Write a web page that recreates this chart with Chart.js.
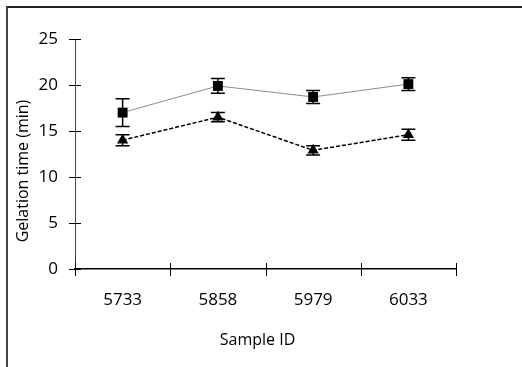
<!DOCTYPE html>
<html>
<head>
<meta charset="utf-8">
<script src="https://cdn.jsdelivr.net/npm/chart.js@4.4.0/dist/chart.umd.min.js"></script>
<style>
  html, body { margin: 0; padding: 0; background: #fff; }
  #wrap { position: relative; width: 522px; height: 367px; overflow: hidden; }
  #frame {
    position: absolute; left: 6px; top: 6px; width: 600px; height: 400px;
    border-top: 2px solid #222; border-left: 2px solid #444;
  }
  canvas { position: absolute; left: 0; top: 0; }
</style>
</head>
<body>
<div id="wrap">
  <div id="frame"></div>
  <canvas id="gelChart" width="522" height="367"></canvas>
</div>
<script>
const samples = ["5733", "5858", "5979", "6033"];
const squareVals = [17.0, 19.9, 18.7, 20.1];
const squareErr = [1.5, 0.8, 0.7, 0.7];
const triangleVals = [14.0, 16.5, 12.9, 14.6];
const triangleErr = [0.6, 0.5, 0.5, 0.6];
const yTicks = [0, 5, 10, 15, 20, 25];

const FONT = "'Open Sans', 'DejaVu Sans', sans-serif";

// error bars, drawn under the markers
const errorBars = {
  id: "errorBars",
  beforeDatasetsDraw(chart) {
    const ctx = chart.ctx;
    const x = chart.scales.x;
    const y = chart.scales.y;
    ctx.save();
    ctx.strokeStyle = "#000";
    ctx.lineWidth = 1.5;
    chart.data.datasets.forEach(ds => {
      ds.data.forEach((v, i) => {
        const e = ds.errors[i];
        const px = x.getPixelForValue(i);
        const top = y.getPixelForValue(v + e);
        const bot = y.getPixelForValue(v - e);
        ctx.beginPath();
        ctx.moveTo(px, top); ctx.lineTo(px, bot);
        ctx.moveTo(px - 7, top); ctx.lineTo(px + 7, top);
        ctx.moveTo(px - 7, bot); ctx.lineTo(px + 7, bot);
        ctx.stroke();
      });
    });
    ctx.restore();
  }
};

// Excel style crossing tick marks and axis titles
const axisDecor = {
  id: "axisDecor",
  afterDraw(chart) {
    const ctx = chart.ctx;
    const x = chart.scales.x;
    const y = chart.scales.y;
    const area = chart.chartArea;
    ctx.save();
    ctx.strokeStyle = "#000";
    ctx.lineWidth = 1;
    yTicks.forEach(t => {
      const py = Math.round(y.getPixelForValue(t)) + 0.5;
      ctx.beginPath();
      ctx.moveTo(area.left - 6, py);
      ctx.lineTo(area.left + 6, py);
      ctx.stroke();
    });
    for (let i = 0; i <= samples.length; i++) {
      const px = Math.round(x.getPixelForValue(i - 0.5)) + 0.5;
      ctx.beginPath();
      ctx.moveTo(px, area.bottom - 6);
      ctx.lineTo(px, area.bottom + 7);
      ctx.stroke();
    }

    ctx.fillStyle = "#000";
    ctx.font = "16px " + FONT;
    ctx.textAlign = "center";
    ctx.textBaseline = "middle";
    ctx.fillText("Sample ID", area.left + (area.right - area.left) / 2 - 8, 340);

    ctx.translate(23, area.top + (area.bottom - area.top) / 2 + 17);
    ctx.rotate(-Math.PI / 2);
    ctx.fillText("Gelation time (min)", 0, 0);
    ctx.restore();
  }
};

const chart = new Chart(document.getElementById("gelChart").getContext("2d"), {
  type: "line",
  data: {
    labels: samples,
    datasets: [
      {
        label: "squares",
        data: squareVals,
        errors: squareErr,
        borderColor: "#8c8c8c",
        borderWidth: 1,
        pointStyle: "rect",
        pointRadius: 7,
        pointBackgroundColor: "#000",
        pointBorderColor: "#000",
        pointBorderWidth: 0,
        clip: false
      },
      {
        label: "triangles",
        data: triangleVals,
        errors: triangleErr,
        borderColor: "#000",
        borderWidth: 1.5,
        borderDash: [4, 2],
        pointStyle: "triangle",
        pointRadius: 6.5,
        pointBackgroundColor: "#000",
        pointBorderColor: "#000",
        pointBorderWidth: 0,
        clip: false
      }
    ]
  },
  options: {
    responsive: false,
    animation: false,
    devicePixelRatio: 1,
    layout: { padding: { left: 0, top: 39, right: 66, bottom: 0 } },
    plugins: {
      legend: { display: false },
      tooltip: { enabled: false }
    },
    scales: {
      x: {
        type: "category",
        offset: true,
        grid: { display: false, offset: true },
        border: { display: true, color: "#000", width: 1.5 },
        ticks: {
          color: "#000",
          font: { family: FONT, size: 17 },
          padding: 13,
          maxRotation: 0
        },
        afterFit(scale) { scale.height = 98; }
      },
      y: {
        min: 0,
        max: 25,
        afterBuildTicks(scale) {
          scale.ticks = yTicks.map(v => ({ value: v }));
        },
        grid: { display: false },
        border: { display: true, color: "#444", width: 1 },
        ticks: {
          color: "#000",
          font: { family: FONT, size: 17 },
          padding: 9
        },
        afterFit(scale) { scale.width = 75; }
      }
    }
  },
  plugins: [errorBars, axisDecor]
});
</script>
</body>
</html>
